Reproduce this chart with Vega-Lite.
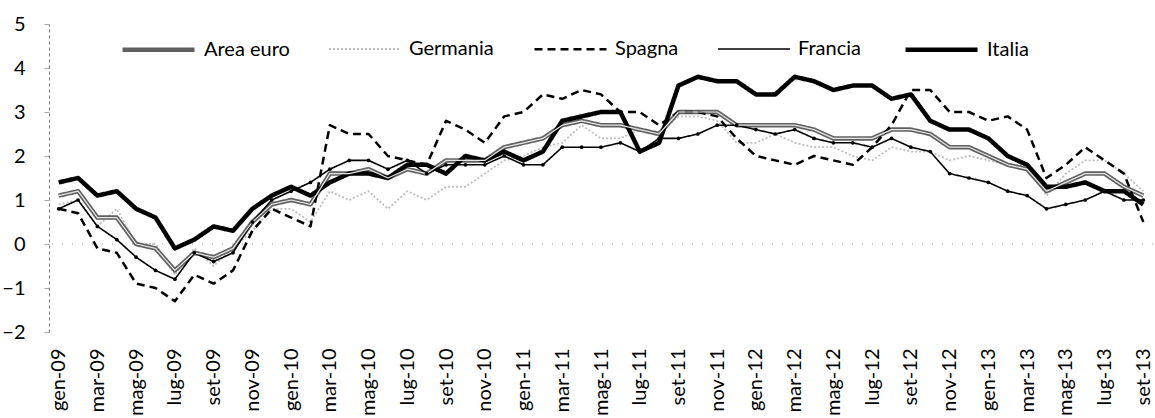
{
  "$schema": "https://vega.github.io/schema/vega-lite/v6.json",
  "width": 1104,
  "height": 308,
  "autosize": {"type": "none"},
  "padding": {"left": 49, "top": 24, "right": 2, "bottom": 86},
  "background": "white",
  "config": {"view": {"stroke": null}, "font": "Lato"},
  "data": {"values": [
    {"mese": "gen-09", "Area euro": 1.1, "Germania": 0.9, "Spagna": 0.8, "Francia": 0.8, "Italia": 1.4},
    {"mese": "feb-09", "Area euro": 1.2, "Germania": 1.0, "Spagna": 0.7, "Francia": 1.0, "Italia": 1.5},
    {"mese": "mar-09", "Area euro": 0.6, "Germania": 0.4, "Spagna": -0.1, "Francia": 0.4, "Italia": 1.1},
    {"mese": "apr-09", "Area euro": 0.6, "Germania": 0.8, "Spagna": -0.2, "Francia": 0.1, "Italia": 1.2},
    {"mese": "mag-09", "Area euro": 0.0, "Germania": 0.0, "Spagna": -0.9, "Francia": -0.3, "Italia": 0.8},
    {"mese": "giu-09", "Area euro": -0.1, "Germania": 0.0, "Spagna": -1.0, "Francia": -0.6, "Italia": 0.6},
    {"mese": "lug-09", "Area euro": -0.6, "Germania": -0.7, "Spagna": -1.3, "Francia": -0.8, "Italia": -0.1},
    {"mese": "ago-09", "Area euro": -0.2, "Germania": -0.1, "Spagna": -0.7, "Francia": -0.2, "Italia": 0.1},
    {"mese": "set-09", "Area euro": -0.3, "Germania": -0.5, "Spagna": -0.9, "Francia": -0.4, "Italia": 0.4},
    {"mese": "ott-09", "Area euro": -0.1, "Germania": -0.1, "Spagna": -0.6, "Francia": -0.2, "Italia": 0.3},
    {"mese": "nov-09", "Area euro": 0.5, "Germania": 0.3, "Spagna": 0.3, "Francia": 0.5, "Italia": 0.8},
    {"mese": "dic-09", "Area euro": 0.9, "Germania": 0.8, "Spagna": 0.8, "Francia": 1.0, "Italia": 1.1},
    {"mese": "gen-10", "Area euro": 1.0, "Germania": 0.8, "Spagna": 0.6, "Francia": 1.2, "Italia": 1.3},
    {"mese": "feb-10", "Area euro": 0.9, "Germania": 0.5, "Spagna": 0.4, "Francia": 1.4, "Italia": 1.1},
    {"mese": "mar-10", "Area euro": 1.6, "Germania": 1.2, "Spagna": 2.7, "Francia": 1.7, "Italia": 1.4},
    {"mese": "apr-10", "Area euro": 1.6, "Germania": 1.0, "Spagna": 2.5, "Francia": 1.9, "Italia": 1.6},
    {"mese": "mag-10", "Area euro": 1.7, "Germania": 1.2, "Spagna": 2.5, "Francia": 1.9, "Italia": 1.6},
    {"mese": "giu-10", "Area euro": 1.5, "Germania": 0.8, "Spagna": 2.0, "Francia": 1.7, "Italia": 1.5},
    {"mese": "lug-10", "Area euro": 1.7, "Germania": 1.2, "Spagna": 1.9, "Francia": 1.9, "Italia": 1.8},
    {"mese": "ago-10", "Area euro": 1.6, "Germania": 1.0, "Spagna": 1.8, "Francia": 1.6, "Italia": 1.8},
    {"mese": "set-10", "Area euro": 1.9, "Germania": 1.3, "Spagna": 2.8, "Francia": 1.8, "Italia": 1.6},
    {"mese": "ott-10", "Area euro": 1.9, "Germania": 1.3, "Spagna": 2.6, "Francia": 1.8, "Italia": 2.0},
    {"mese": "nov-10", "Area euro": 1.9, "Germania": 1.6, "Spagna": 2.3, "Francia": 1.8, "Italia": 1.9},
    {"mese": "dic-10", "Area euro": 2.2, "Germania": 1.9, "Spagna": 2.9, "Francia": 2.0, "Italia": 2.1},
    {"mese": "gen-11", "Area euro": 2.3, "Germania": 2.0, "Spagna": 3.0, "Francia": 1.8, "Italia": 1.9},
    {"mese": "feb-11", "Area euro": 2.4, "Germania": 2.2, "Spagna": 3.4, "Francia": 1.8, "Italia": 2.1},
    {"mese": "mar-11", "Area euro": 2.7, "Germania": 2.3, "Spagna": 3.3, "Francia": 2.2, "Italia": 2.8},
    {"mese": "apr-11", "Area euro": 2.8, "Germania": 2.7, "Spagna": 3.5, "Francia": 2.2, "Italia": 2.9},
    {"mese": "mag-11", "Area euro": 2.7, "Germania": 2.4, "Spagna": 3.4, "Francia": 2.2, "Italia": 3.0},
    {"mese": "giu-11", "Area euro": 2.7, "Germania": 2.4, "Spagna": 3.0, "Francia": 2.3, "Italia": 3.0},
    {"mese": "lug-11", "Area euro": 2.6, "Germania": 2.6, "Spagna": 3.0, "Francia": 2.1, "Italia": 2.1},
    {"mese": "ago-11", "Area euro": 2.5, "Germania": 2.5, "Spagna": 2.7, "Francia": 2.4, "Italia": 2.3},
    {"mese": "set-11", "Area euro": 3.0, "Germania": 2.9, "Spagna": 3.0, "Francia": 2.4, "Italia": 3.6},
    {"mese": "ott-11", "Area euro": 3.0, "Germania": 2.9, "Spagna": 3.0, "Francia": 2.5, "Italia": 3.8},
    {"mese": "nov-11", "Area euro": 3.0, "Germania": 2.8, "Spagna": 2.9, "Francia": 2.7, "Italia": 3.7},
    {"mese": "dic-11", "Area euro": 2.7, "Germania": 2.3, "Spagna": 2.4, "Francia": 2.7, "Italia": 3.7},
    {"mese": "gen-12", "Area euro": 2.7, "Germania": 2.3, "Spagna": 2.0, "Francia": 2.6, "Italia": 3.4},
    {"mese": "feb-12", "Area euro": 2.7, "Germania": 2.5, "Spagna": 1.9, "Francia": 2.5, "Italia": 3.4},
    {"mese": "mar-12", "Area euro": 2.7, "Germania": 2.3, "Spagna": 1.8, "Francia": 2.6, "Italia": 3.8},
    {"mese": "apr-12", "Area euro": 2.6, "Germania": 2.2, "Spagna": 2.0, "Francia": 2.4, "Italia": 3.7},
    {"mese": "mag-12", "Area euro": 2.4, "Germania": 2.2, "Spagna": 1.9, "Francia": 2.3, "Italia": 3.5},
    {"mese": "giu-12", "Area euro": 2.4, "Germania": 2.0, "Spagna": 1.8, "Francia": 2.3, "Italia": 3.6},
    {"mese": "lug-12", "Area euro": 2.4, "Germania": 1.9, "Spagna": 2.2, "Francia": 2.2, "Italia": 3.6},
    {"mese": "ago-12", "Area euro": 2.6, "Germania": 2.2, "Spagna": 2.7, "Francia": 2.4, "Italia": 3.3},
    {"mese": "set-12", "Area euro": 2.6, "Germania": 2.1, "Spagna": 3.5, "Francia": 2.2, "Italia": 3.4},
    {"mese": "ott-12", "Area euro": 2.5, "Germania": 2.1, "Spagna": 3.5, "Francia": 2.1, "Italia": 2.8},
    {"mese": "nov-12", "Area euro": 2.2, "Germania": 1.9, "Spagna": 3.0, "Francia": 1.6, "Italia": 2.6},
    {"mese": "dic-12", "Area euro": 2.2, "Germania": 2.0, "Spagna": 3.0, "Francia": 1.5, "Italia": 2.6},
    {"mese": "gen-13", "Area euro": 2.0, "Germania": 1.9, "Spagna": 2.8, "Francia": 1.4, "Italia": 2.4},
    {"mese": "feb-13", "Area euro": 1.8, "Germania": 1.8, "Spagna": 2.9, "Francia": 1.2, "Italia": 2.0},
    {"mese": "mar-13", "Area euro": 1.7, "Germania": 1.8, "Spagna": 2.6, "Francia": 1.1, "Italia": 1.8},
    {"mese": "apr-13", "Area euro": 1.2, "Germania": 1.1, "Spagna": 1.5, "Francia": 0.8, "Italia": 1.3},
    {"mese": "mag-13", "Area euro": 1.4, "Germania": 1.6, "Spagna": 1.8, "Francia": 0.9, "Italia": 1.3},
    {"mese": "giu-13", "Area euro": 1.6, "Germania": 1.9, "Spagna": 2.2, "Francia": 1.0, "Italia": 1.4},
    {"mese": "lug-13", "Area euro": 1.6, "Germania": 1.9, "Spagna": 1.9, "Francia": 1.2, "Italia": 1.2},
    {"mese": "ago-13", "Area euro": 1.3, "Germania": 1.6, "Spagna": 1.6, "Francia": 1.0, "Italia": 1.2},
    {"mese": "set-13", "Area euro": 1.1, "Germania": 1.2, "Spagna": 0.5, "Francia": 1.0, "Italia": 0.9}
  ]},
  "layer": [
    {
      "data": {"values": [{}]},
      "mark": {"type": "rule", "stroke": "#9a9a9a", "strokeDash": [1, 9], "strokeWidth": 1},
      "encoding": {"y": {"datum": 0, "type": "quantitative"}}
    },
    {
      "transform": [{"fold": ["Germania", "Area euro", "Francia", "Spagna", "Italia"], "as": ["serie", "valore"]}],
      "mark": {"type": "line", "strokeJoin": "round"},
      "encoding": {
        "x": {
          "field": "mese", "type": "nominal", "sort": null,
          "scale": {"type": "point", "padding": 0.5},
          "axis": {
            "title": null, "labelAngle": -90, "tickSize": 0, "domain": false, "labelPadding": 16,
            "labelFont": "Lato", "labelFontSize": 20, "labelColor": "#000",
            "values": ["gen-09","mar-09","mag-09","lug-09","set-09","nov-09","gen-10","mar-10","mag-10","lug-10","set-10","nov-10","gen-11","mar-11","mag-11","lug-11","set-11","nov-11","gen-12","mar-12","mag-12","lug-12","set-12","nov-12","gen-13","mar-13","mag-13","lug-13","set-13"]
          }
        },
        "y": {
          "field": "valore", "type": "quantitative",
          "scale": {"domain": [-2, 5], "nice": false},
          "axis": {
            "title": null, "values": [-2, -1, 0, 1, 2, 3, 4, 5], "grid": false,
            "domainDash": [3, 3], "domainColor": "#777", "tickColor": "#aaa", "tickSize": 5,
            "labelPadding": 19, "labelFont": "Lato", "labelFontSize": 20, "labelColor": "#000"
          }
        },
        "color": {
          "field": "serie", "type": "nominal",
          "scale": {"domain": ["Area euro", "Germania", "Spagna", "Francia", "Italia"], "range": ["#606060", "#bdbdbd", "#000000", "#000000", "#000000"]},
          "legend": {
            "title": null, "orient": "none", "legendX": 71, "legendY": -13, "direction": "horizontal",
            "symbolType": "stroke", "symbolSize": 5184,
            "labelFont": "Lato", "labelFontSize": 20, "labelColor": "#000", "labelOffset": 7, "columnPadding": 35
          }
        },
        "strokeDash": {
          "field": "serie", "type": "nominal",
          "scale": {"domain": ["Area euro", "Germania", "Spagna", "Francia", "Italia"], "range": [[1, 0], [2, 2], [8, 5], [1, 0], [1, 0]]}
        },
        "strokeWidth": {
          "field": "serie", "type": "nominal",
          "scale": {"type": "ordinal", "domain": ["Area euro", "Germania", "Spagna", "Francia", "Italia"], "range": [4.5, 1.8, 2.5, 1.6, 4.5]}
        }
      }
    },
    {
      "transform": [
        {"fold": ["Germania", "Area euro", "Francia", "Spagna", "Italia"], "as": ["serie", "valore"]},
        {"filter": "datum.serie === 'Area euro'"}
      ],
      "mark": {"type": "line", "stroke": "#e6e6e6", "strokeWidth": 1.2, "strokeJoin": "round"},
      "encoding": {
        "x": {"field": "mese", "type": "nominal", "sort": null},
        "y": {"field": "valore", "type": "quantitative"}
      }
    },
    {
      "transform": [
        {"fold": ["Germania", "Area euro", "Francia", "Spagna", "Italia"], "as": ["serie", "valore"]},
        {"filter": "datum.serie === 'Francia'"}
      ],
      "mark": {"type": "point", "filled": true, "color": "#000", "size": 14, "opacity": 1},
      "encoding": {
        "x": {"field": "mese", "type": "nominal", "sort": null},
        "y": {"field": "valore", "type": "quantitative"}
      }
    }
  ]
}
